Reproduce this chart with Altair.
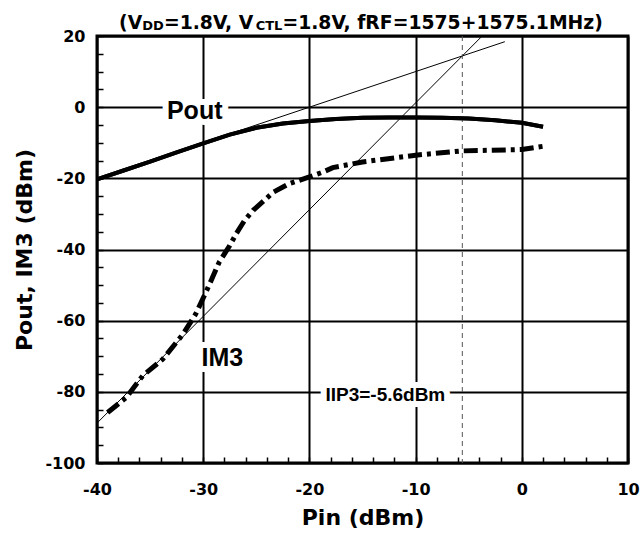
import altair as alt
import pandas as pd

# ---- data ----
pout_x = [-40, -37.5, -35, -32.5, -30, -27.5, -25, -22.5, -20, -17.5, -15, -12.5, -10, -7.5, -5, -2.5, 0, 2]
pout_y = [-20.3, -17.8, -15.3, -12.7, -10.2, -7.7, -5.8, -4.6, -3.9, -3.3, -3.0, -2.9, -2.9, -3.0, -3.2, -3.7, -4.4, -5.5]

im3_x = [-39.0, -37.25, -35.7, -33.8, -31.9, -30.7, -29.9, -29.25, -28.5, -27.5, -26.9, -26.1,
         -25.3, -23.4, -21.9, -20.0, -18.7, -17.8, -15.0, -10.0, -5.7, 0.0, 2.0]
im3_y = [-85.8, -81.6, -75.5, -70.8, -63.8, -58.1, -53.0, -48.7, -43.6, -38.9, -35.6, -31.8,
         -29.0, -23.9, -21.5, -19.6, -18.2, -17.0, -15.4, -13.5, -12.3, -11.9, -11.0]

# extrapolated (slope 1 and slope 3) lines
fund_ext_x = [-40, -1.6]
fund_ext_y = [-20, 18.4]
im3_ext_x = [-40, -3.7]
im3_ext_y = [-88.8, 20.1]

iip3 = -5.6

big_labels = ["Pout", "IM3"]
big_label_x = [-30.8, -28.2]
big_label_y = [-1.0, -70.6]
small_labels = ["IIP3=-5.6dBm"]
small_label_x = [-12.85]
small_label_y = [-81.0]

x_domain = [-40, 10]
y_domain = [-100, 20]
x_tick_values = list(range(-40, 12, 2))     # minor every 2, labelled every 10
y_tick_values = list(range(-100, 25, 5))    # minor every 5, labelled every 20

# title pieces: normal text and subscripts
title_parts = ["(V", "DD", "=1.8V, V", "CTL", "=1.8V, fRF=1575+1575.1MHz)"]
title_is_sub = [False, True, False, True, False]
x_title = "Pin (dBm)"
y_title = "Pout, IM3 (dBm)"

# ---- layout constants (pixels, relative to the plot area) ----
W, H = 531, 427
TICK = 6
TITLE_FS, SUB_FS = 18.8, 13
title_part_x = [22.1, 45.3, 66.9, 158.7, 185.4]
TITLE_BASE_Y, SUB_BASE_Y = -7, -6

# ---- frames ----
pout_df = pd.DataFrame({"x": pout_x, "y": pout_y})
im3_df = pd.DataFrame({"x": im3_x, "y": im3_y})
fext_df = pd.DataFrame({"x": fund_ext_x, "y": fund_ext_y})
iext_df = pd.DataFrame({"x": im3_ext_x, "y": im3_ext_y})
big_df = pd.DataFrame({"x": big_label_x, "y": big_label_y, "t": big_labels})
small_df = pd.DataFrame({"x": small_label_x, "y": small_label_y, "t": small_labels})
iip_df = pd.DataFrame({"x": [iip3]})

xs = alt.Scale(domain=x_domain, nice=False, zero=False)
ys = alt.Scale(domain=y_domain, nice=False, zero=False)

AXF = "DejaVu Sans"
# axis moved TICK px inside the frame so that its outward ticks end on the frame (= inward ticks)
x_axis = alt.Axis(values=x_tick_values, grid=True, ticks=True, tickSize=TICK, tickWidth=1.5,
                  tickColor="black", domain=False, offset=-TICK,
                  gridOpacity={"condition": {"test": "datum.value % 10 == 0", "value": 1}, "value": 0},
                  labelPadding=18, labelFlush=False, titlePadding=10,
                  labelExpr="datum.value % 10 == 0 ? toString(datum.value) : ''")
y_axis = alt.Axis(values=y_tick_values, grid=True, ticks=True, tickSize=TICK, tickWidth=1.5,
                  tickColor="black", domain=False, offset=-TICK,
                  gridOpacity={"condition": {"test": "datum.value % 20 == 0", "value": 1}, "value": 0},
                  labelPadding=12, labelFlush=False, titlePadding=8,
                  labelExpr="datum.value % 20 == 0 ? toString(datum.value) : ''")


def X():
    return alt.X("x:Q", scale=xs, axis=x_axis, title=x_title)


def Y():
    return alt.Y("y:Q", scale=ys, axis=y_axis, title=y_title)


pout_line = alt.Chart(pout_df).mark_line(color="black", strokeWidth=4, clip=True).encode(x=X(), y=Y())

halo_big = alt.Chart(big_df).mark_text(font="Liberation Sans", fontWeight="bold", fontSize=25,
                                       fill="white", stroke="white", strokeWidth=12,
                                       strokeJoin="round", baseline="middle").encode(x=X(), y=Y(), text="t:N")
halo_small = alt.Chart(small_df).mark_text(font="Liberation Sans", fontWeight="bold", fontSize=19,
                                           fill="white", stroke="white", strokeWidth=12,
                                           strokeJoin="round", baseline="middle").encode(x=X(), y=Y(), text="t:N")

fext = alt.Chart(fext_df).mark_line(color="black", strokeWidth=1, clip=True).encode(x=X(), y=Y())
iext = alt.Chart(iext_df).mark_line(color="black", strokeWidth=1, clip=True).encode(x=X(), y=Y())
vline = alt.Chart(iip_df).mark_rule(color="#555555", strokeWidth=1, strokeDash=[5, 4]).encode(x=X())

im3 = alt.Chart(im3_df).mark_line(color="black", strokeWidth=5, strokeDash=[14, 5, 4, 5], clip=True).encode(
    x=X(), y=Y())

txt_big = alt.Chart(big_df).mark_text(font="Liberation Sans", fontWeight="bold", fontSize=25,
                                      color="black", baseline="middle").encode(x=X(), y=Y(), text="t:N")
txt_small = alt.Chart(small_df).mark_text(font="Liberation Sans", fontWeight="bold", fontSize=19,
                                          color="black", baseline="middle").encode(x=X(), y=Y(), text="t:N")

# title built from text pieces so that DD and CTL can be subscripts
title_layers = []
for part, sub, px in zip(title_parts, title_is_sub, title_part_x):
    title_layers.append(
        alt.Chart(pd.DataFrame({"t": [part]})).mark_text(
            font=AXF, fontWeight="bold", fontSize=SUB_FS if sub else TITLE_FS, color="black",
            align="left", baseline="alphabetic",
        ).encode(text="t:N", x=alt.value(px), y=alt.value(SUB_BASE_Y if sub else TITLE_BASE_Y))
    )

chart = alt.layer(
    pout_line, halo_big, halo_small, fext, iext, vline, im3,
    pout_line, txt_big, txt_small, *title_layers
).properties(
    width=W, height=H,
    autosize=alt.AutoSizeParams(type="none"),
    padding={"left": 97, "top": 36, "right": 13, "bottom": 76},
    background="white",
).configure_view(stroke="black", strokeWidth=3).configure_axis(
    gridColor="black", gridWidth=2,
    labelFont=AXF, labelFontWeight="bold", labelFontSize=16, labelColor="black",
    titleFont=AXF, titleFontWeight="bold", titleFontSize=22, titleColor="black",
)

chart.save("out.html", embed_options={"renderer": "svg", "actions": False})
